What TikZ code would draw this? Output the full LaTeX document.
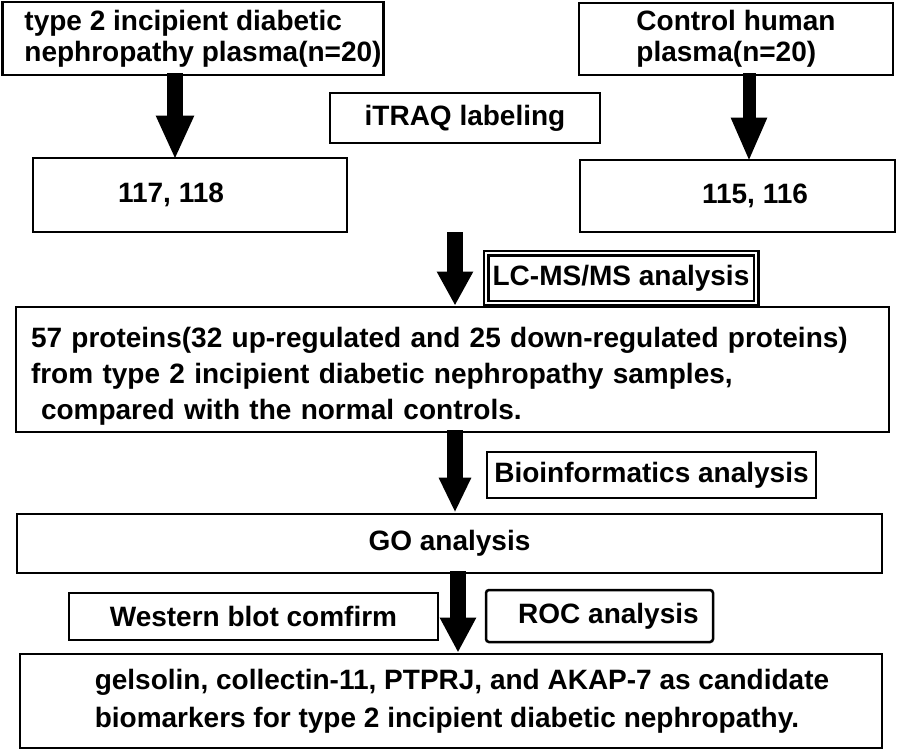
\documentclass[tikz,border=0pt]{standalone}
\usepackage{fontspec}
\setmainfont{Liberation Sans}
\usepackage{tikz}
\usetikzlibrary{arrows.meta, positioning}

\begin{document}
\begin{tikzpicture}[x = 1pt, y = -1pt,
    box/.style = {draw, line width = 2.8pt, inner sep = 2pt, font = \fontsize{28}{36}\selectfont\bfseries},
    tagbox/.style = {box, line width = 2.5pt},
    bigArrow/.style = {line width = 16pt}]
  \def\tipW{35pt}
  \def\tipL{44pt}

  \useasboundingbox (0, 0) rectangle (898, 750);

  % ------------------------
  % plasma samples
  % ------------------------

  \node[box, font = \fontsize{28}{31}\selectfont\bfseries, minimum width = 380, minimum height = 73, align = left]
    (typeTwo) at (193, 38.5)
    {\hspace*{20pt}type 2 incipient diabetic\\\hspace*{20pt}nephropathy plasma(n=20)};
  \node[box, font = \fontsize{28}{31}\selectfont\bfseries, minimum width = 314, minimum height = 72, align = left]
    (control) at (736, 39)
    {Control human\\plasma(n=20)};

  \node[tagbox, minimum width = 270, minimum height = 50] (itraq) at (465, 118) {iTRAQ labeling};

  \node[box, minimum width = 314, minimum height = 74] (labA) at (190, 195) {117, 118\hspace*{38pt}};
  \node[box, minimum width = 315, minimum height = 72] (labB) at (737.5, 196) {\hspace*{35pt}115, 116};

  \draw[bigArrow, -{Triangle[width = \tipW, length = \tipL]}]
    ([xshift = -18, yshift = 3]typeTwo.south) to ([xshift = -15, yshift = -3]labA.north);
  \draw[bigArrow, line width = 13pt, -{Triangle[width = 33pt, length = \tipL]}]
    ([xshift = 13, yshift = 3]control.south) to ([xshift = 11.5, yshift = -3]labB.north);

  % ------------------------
  % mass spectrometry
  % ------------------------

  \coordinate (split) at (455, 232);

  \node[tagbox, double, double distance = 2pt, minimum width = 270, minimum height = 50] (lcms) at (621, 278)
    {LC-MS/MS analysis};

  \node[box, minimum width = 873, minimum height = 125, align = left, text width = 843] (summary) at (452.5, 369.5)
    {\rule{0pt}{34pt}57 proteins(32 up-regulated and 25 down-regulated proteins)\\
     from type 2 incipient diabetic nephropathy samples,\\
     \hspace*{10pt}compared with the normal controls.};

  \draw[bigArrow, -{Triangle[width = 34pt, length = 34pt]}] (split) to (split |- summary.north);

  % ------------------------
  % bioinformatics
  % ------------------------

  \node[tagbox, minimum width = 329, minimum height = 46] (bioinf) at (651.5, 475) {Bioinformatics analysis};

  \node[box, minimum width = 865, minimum height = 59] (goBox) at (449.5, 543.5) {GO analysis};

  \draw[bigArrow, -{Triangle[width = 30pt, length = 35pt]}]
    ([xshift = 2.5, yshift = 3]summary.south) to ([xshift = 5.5]goBox.north);

  % ------------------------
  % validation
  % ------------------------

  \node[tagbox, minimum width = 369, minimum height = 47] (western) at (253.5, 616.5) {Western blot comfirm};
  \node[tagbox, rounded corners = 3pt, minimum width = 227, minimum height = 52] (roc) at (599.5, 616)
    {\hspace*{18pt}ROC analysis};

  \node[box, font = \fontsize{28}{38}\selectfont\bfseries, minimum width = 862, minimum height = 94, align = left]
    (final) at (451, 701)
    {\hspace*{22pt}gelsolin, collectin-11, PTPRJ, and AKAP-7 as candidate\\
     \hspace*{22pt}biomarkers for type 2 incipient diabetic nephropathy.};

  \draw[bigArrow, -{Triangle[width = 34pt, length = 35pt]}]
    ([xshift = 8.5, yshift = 3]goBox.south) to ([xshift = 7]final.north);
\end{tikzpicture}
\end{document}
